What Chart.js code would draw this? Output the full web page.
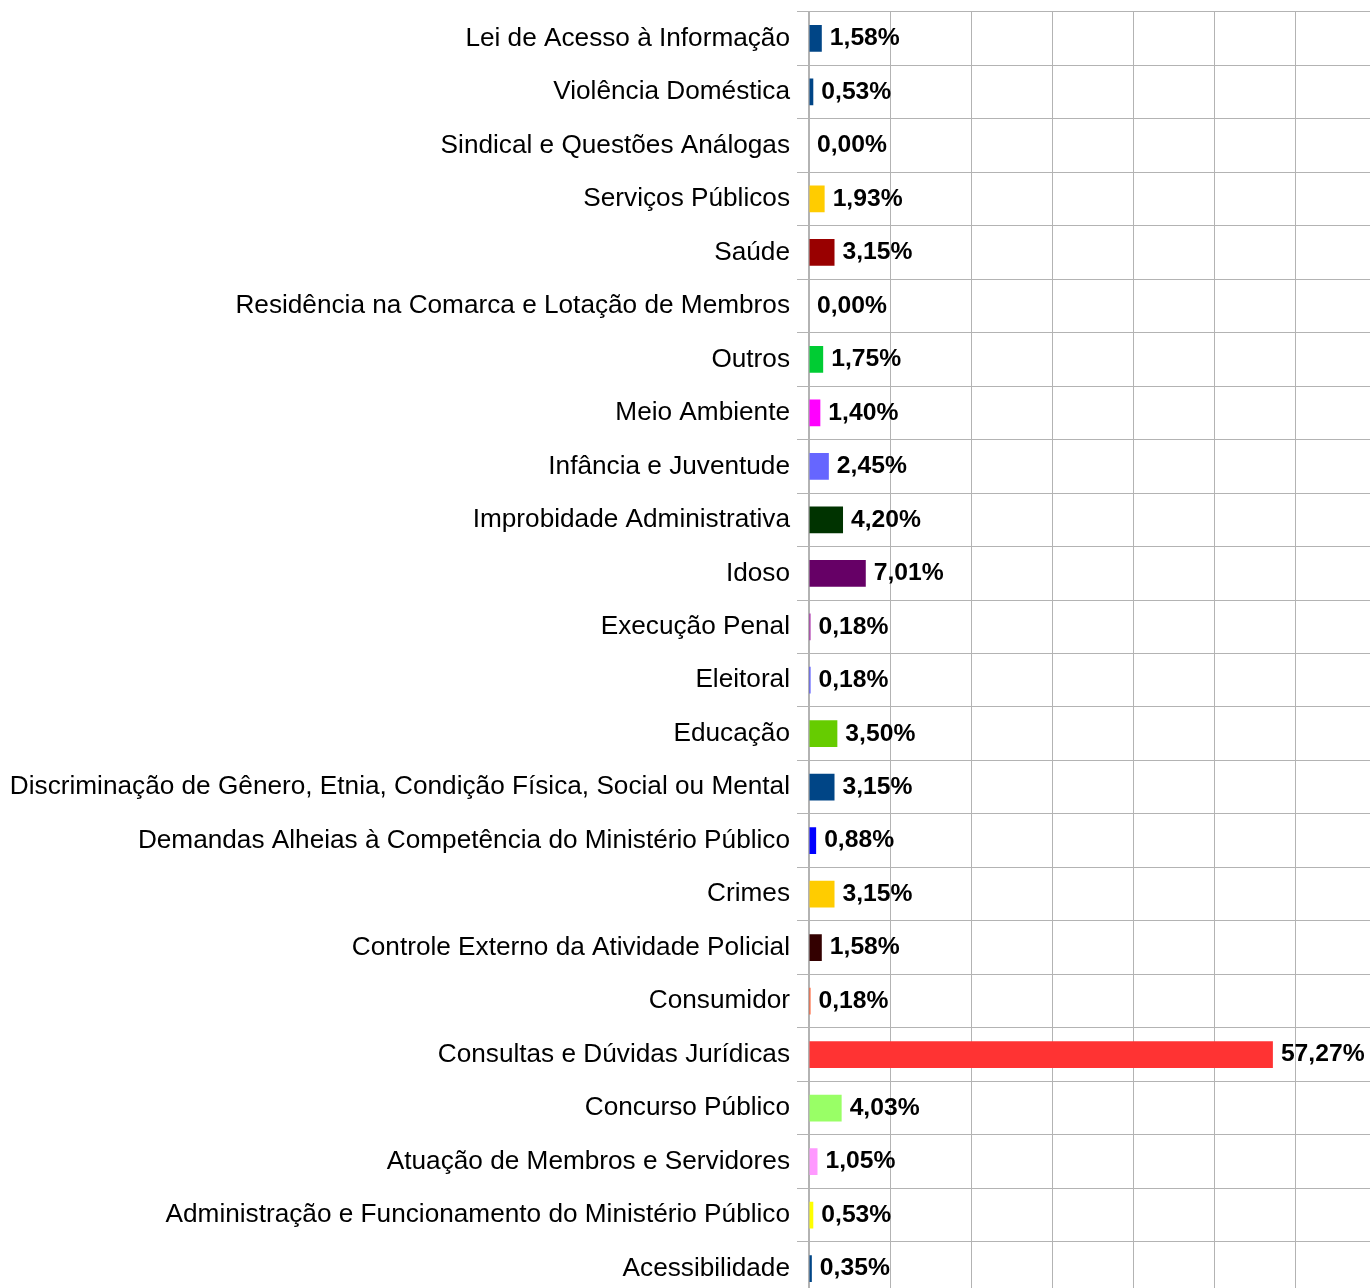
<!DOCTYPE html>
<html>
<head>
<meta charset="utf-8">
<script src="https://cdn.jsdelivr.net/npm/chart.js@4/dist/chart.umd.min.js"></script>
<style>
  html, body { margin: 0; padding: 0; background: #fff; overflow: hidden; }
  #wrap { width: 1376px; height: 1329px; margin-top: -11px; }
</style>
</head>
<body>
<div id="wrap"><canvas id="bars"></canvas></div>
<script>
// categories, top to bottom
var categories = [
  'Lei de Acesso à Informação',
  'Violência Doméstica',
  'Sindical e Questões Análogas',
  'Serviços Públicos',
  'Saúde',
  'Residência na Comarca e Lotação de Membros',
  'Outros',
  'Meio Ambiente',
  'Infância e Juventude',
  'Improbidade Administrativa',
  'Idoso',
  'Execução Penal',
  'Eleitoral',
  'Educação',
  'Discriminação de Gênero, Etnia, Condição Física, Social ou Mental',
  'Demandas Alheias à Competência do Ministério Público',
  'Crimes',
  'Controle Externo da Atividade Policial',
  'Consumidor',
  'Consultas e Dúvidas Jurídicas',
  'Concurso Público',
  'Atuação de Membros e Servidores',
  'Administração e Funcionamento do Ministério Público',
  'Acessibilidade'
];

var percentages = [1.58, 0.53, 0.00, 1.93, 3.15, 0.00, 1.75, 1.40, 2.45, 4.20, 7.01, 0.18,
                   0.18, 3.50, 3.15, 0.88, 3.15, 1.58, 0.18, 57.27, 4.03, 1.05, 0.53, 0.35];

var barColors = ['#004586', '#004586', '#004586', '#ffcc00', '#990000', '#004586',
                 '#00cc33', '#ff00ff', '#6666ff', '#003300', '#660066', '#990099',
                 '#3333ff', '#66cc00', '#004586', '#0000ff', '#ffcc00', '#330000',
                 '#ff420e', '#ff3333', '#99ff66', '#ff99ff', '#ffff00', '#004586'];

var gridColor = '#b3b3b3';

// value labels at the end of each bar
var valueLabels = {
  id: 'valueLabels',
  afterDatasetsDraw: function (chart) {
    var ctx = chart.ctx;
    var meta = chart.getDatasetMeta(0);
    ctx.save();
    ctx.font = 'bold 24.7px "Liberation Sans", Arial, sans-serif';
    ctx.fillStyle = '#000';
    ctx.textAlign = 'left';
    ctx.textBaseline = 'middle';
    meta.data.forEach(function (bar, i) {
      var txt = percentages[i].toFixed(2).replace('.', ',') + '%';
      ctx.fillText(txt, bar.x + 8, bar.y);
    });
    ctx.restore();
  }
};

new Chart(document.getElementById('bars'), {
  type: 'bar',
  data: {
    labels: categories,
    datasets: [{
      data: percentages,
      backgroundColor: barColors,
      borderWidth: 0,
      categoryPercentage: 1,
      barPercentage: 0.5
    }]
  },
  options: {
    indexAxis: 'y',
    responsive: true,
    maintainAspectRatio: false,
    animation: false,
    layout: { padding: 0 },
    plugins: {
      legend: { display: false },
      tooltip: { enabled: false }
    },
    scales: {
      x: {
        min: 0,
        max: 70,
        ticks: { display: false, stepSize: 10 },
        grid: { color: gridColor, lineWidth: 1, drawTicks: false },
        border: { display: false }
      },
      y: {
        afterFit: function (scale) { scale.width = 809; },
        ticks: {
          color: '#000',
          padding: 7,
          font: { family: '"Liberation Sans", Arial, sans-serif', size: 26.2 }
        },
        grid: { color: gridColor, lineWidth: 1, tickLength: 12 },
        border: { color: gridColor, width: 2 }
      }
    }
  },
  plugins: [valueLabels]
});
</script>
</body>
</html>
